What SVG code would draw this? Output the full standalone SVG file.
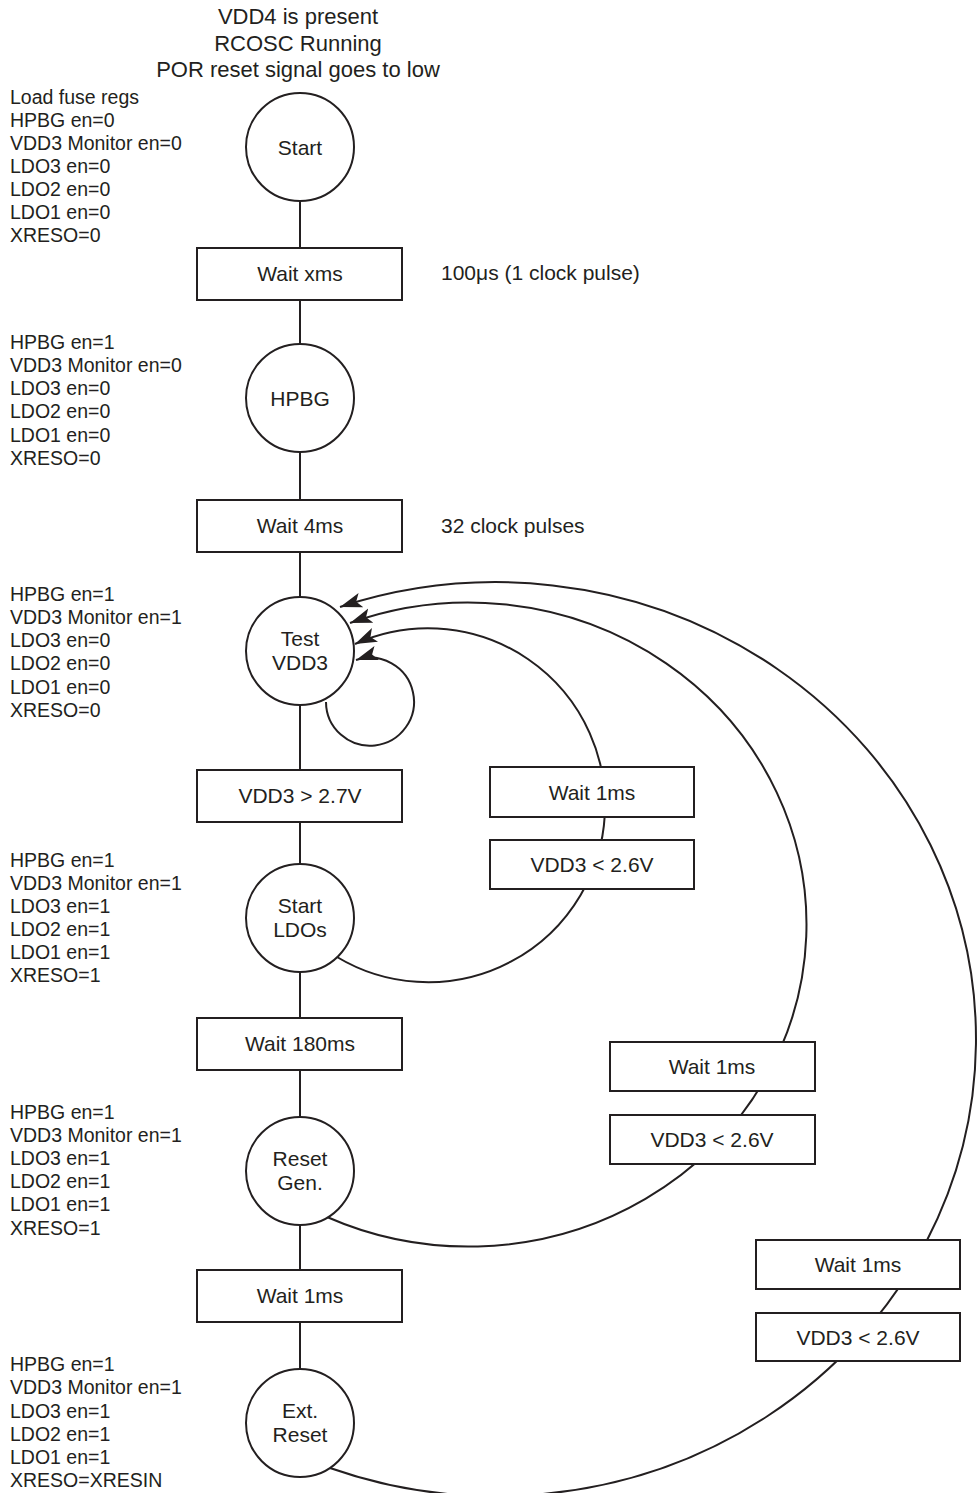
<svg xmlns="http://www.w3.org/2000/svg" width="980" height="1493" viewBox="0 0 980 1493">
<style>
text{font-family:"Liberation Sans",Arial,sans-serif;fill:#231f20}
.t{font-size:21px;text-anchor:middle}
.h{font-size:22px;text-anchor:middle}
.s{font-size:21px}
.l{font-size:19.5px}
.n circle,.n rect{fill:#fff;stroke:#231f20;stroke-width:2}
.c{fill:none;stroke:#231f20;stroke-width:2}
</style>
<defs>
<marker id="ah" markerUnits="userSpaceOnUse" markerWidth="24" markerHeight="16" refX="22" refY="7.5" orient="auto">
<path d="M0,0 L22,7.5 L0,15 L5,7.5 z" fill="#231f20"/>
</marker>
</defs>
<g id="title">
<text class="h" x="298" y="24">VDD4 is present</text>
<text class="h" x="298" y="51">RCOSC Running</text>
<text class="h" x="298" y="77">POR reset signal goes to low</text>
</g>
<g id="connectors">
<line class="c" x1="300" y1="200" x2="300" y2="1370"/>
<path class="c" d="M326,702 A44,44 0 1 0 356,660" marker-end="url(#ah)"/>
<path class="c" d="M337,957 A177,177 0 1 0 355,644" marker-end="url(#ah)"/>
<path class="c" d="M327,1217 A338,322 0 1 0 350,623" marker-end="url(#ah)"/>
<path class="c" d="M330,1468 A480,457 0 1 0 340,607" marker-end="url(#ah)"/>
</g>
<g id="start" class="n"><circle cx="300" cy="147" r="54"/><text class="t" x="300" y="155">Start</text></g>
<g id="wait-xms" class="n"><rect x="197" y="248" width="205" height="52"/><text class="t" x="300" y="281">Wait xms</text></g>
<g id="hpbg" class="n"><circle cx="300" cy="398" r="54"/><text class="t" x="300" y="406">HPBG</text></g>
<g id="wait-4ms" class="n"><rect x="197" y="500" width="205" height="52"/><text class="t" x="300" y="533">Wait 4ms</text></g>
<g id="test-vdd3" class="n"><circle cx="300" cy="651" r="54"/><text class="t" x="300" y="646">Test</text><text class="t" x="300" y="670">VDD3</text></g>
<g id="vdd3-gt" class="n"><rect x="197" y="770" width="205" height="52"/><text class="t" x="300" y="803">VDD3 &gt; 2.7V</text></g>
<g id="start-ldos" class="n"><circle cx="300" cy="918" r="54"/><text class="t" x="300" y="913">Start</text><text class="t" x="300" y="937">LDOs</text></g>
<g id="wait-180ms" class="n"><rect x="197" y="1018" width="205" height="52"/><text class="t" x="300" y="1051">Wait 180ms</text></g>
<g id="reset-gen" class="n"><circle cx="300" cy="1171" r="54"/><text class="t" x="300" y="1166">Reset</text><text class="t" x="300" y="1190">Gen.</text></g>
<g id="wait-1ms" class="n"><rect x="197" y="1270" width="205" height="52"/><text class="t" x="300" y="1303">Wait 1ms</text></g>
<g id="ext-reset" class="n"><circle cx="300" cy="1423" r="54"/><text class="t" x="300" y="1418">Ext.</text><text class="t" x="300" y="1442">Reset</text></g>
<g id="r1-wait" class="n"><rect x="490" y="767" width="204" height="50"/><text class="t" x="592" y="800">Wait 1ms</text></g>
<g id="r1-cond" class="n"><rect x="490" y="840" width="204" height="49"/><text class="t" x="592" y="872">VDD3 &lt; 2.6V</text></g>
<g id="r2-wait" class="n"><rect x="610" y="1042" width="205" height="49"/><text class="t" x="712" y="1074">Wait 1ms</text></g>
<g id="r2-cond" class="n"><rect x="610" y="1115" width="205" height="49"/><text class="t" x="712" y="1147">VDD3 &lt; 2.6V</text></g>
<g id="r3-wait" class="n"><rect x="756" y="1240" width="204" height="49"/><text class="t" x="858" y="1272">Wait 1ms</text></g>
<g id="r3-cond" class="n"><rect x="756" y="1313" width="204" height="48"/><text class="t" x="858" y="1345">VDD3 &lt; 2.6V</text></g>
<g id="side-labels">
<text class="s" x="441" y="280">100μs (1 clock pulse)</text>
<text class="s" x="441" y="533">32 clock pulses</text>
</g>
<g id="annot-1">
<text class="l" x="10" y="104">Load fuse regs</text>
<text class="l" x="10" y="127">HPBG en=0</text>
<text class="l" x="10" y="150">VDD3 Monitor en=0</text>
<text class="l" x="10" y="173">LDO3 en=0</text>
<text class="l" x="10" y="196">LDO2 en=0</text>
<text class="l" x="10" y="219">LDO1 en=0</text>
<text class="l" x="10" y="242">XRESO=0</text>
</g>
<g id="annot-2">
<text class="l" x="10" y="349">HPBG en=1</text>
<text class="l" x="10" y="372">VDD3 Monitor en=0</text>
<text class="l" x="10" y="395">LDO3 en=0</text>
<text class="l" x="10" y="418">LDO2 en=0</text>
<text class="l" x="10" y="442">LDO1 en=0</text>
<text class="l" x="10" y="465">XRESO=0</text>
</g>
<g id="annot-3">
<text class="l" x="10" y="601">HPBG en=1</text>
<text class="l" x="10" y="624">VDD3 Monitor en=1</text>
<text class="l" x="10" y="647">LDO3 en=0</text>
<text class="l" x="10" y="670">LDO2 en=0</text>
<text class="l" x="10" y="694">LDO1 en=0</text>
<text class="l" x="10" y="717">XRESO=0</text>
</g>
<g id="annot-4">
<text class="l" x="10" y="867">HPBG en=1</text>
<text class="l" x="10" y="890">VDD3 Monitor en=1</text>
<text class="l" x="10" y="913">LDO3 en=1</text>
<text class="l" x="10" y="936">LDO2 en=1</text>
<text class="l" x="10" y="959">LDO1 en=1</text>
<text class="l" x="10" y="982">XRESO=1</text>
</g>
<g id="annot-5">
<text class="l" x="10" y="1119">HPBG en=1</text>
<text class="l" x="10" y="1142">VDD3 Monitor en=1</text>
<text class="l" x="10" y="1165">LDO3 en=1</text>
<text class="l" x="10" y="1188">LDO2 en=1</text>
<text class="l" x="10" y="1211">LDO1 en=1</text>
<text class="l" x="10" y="1235">XRESO=1</text>
</g>
<g id="annot-6">
<text class="l" x="10" y="1371">HPBG en=1</text>
<text class="l" x="10" y="1394">VDD3 Monitor en=1</text>
<text class="l" x="10" y="1418">LDO3 en=1</text>
<text class="l" x="10" y="1441">LDO2 en=1</text>
<text class="l" x="10" y="1464">LDO1 en=1</text>
<text class="l" x="10" y="1487">XRESO=XRESIN</text>
</g>
</svg>
